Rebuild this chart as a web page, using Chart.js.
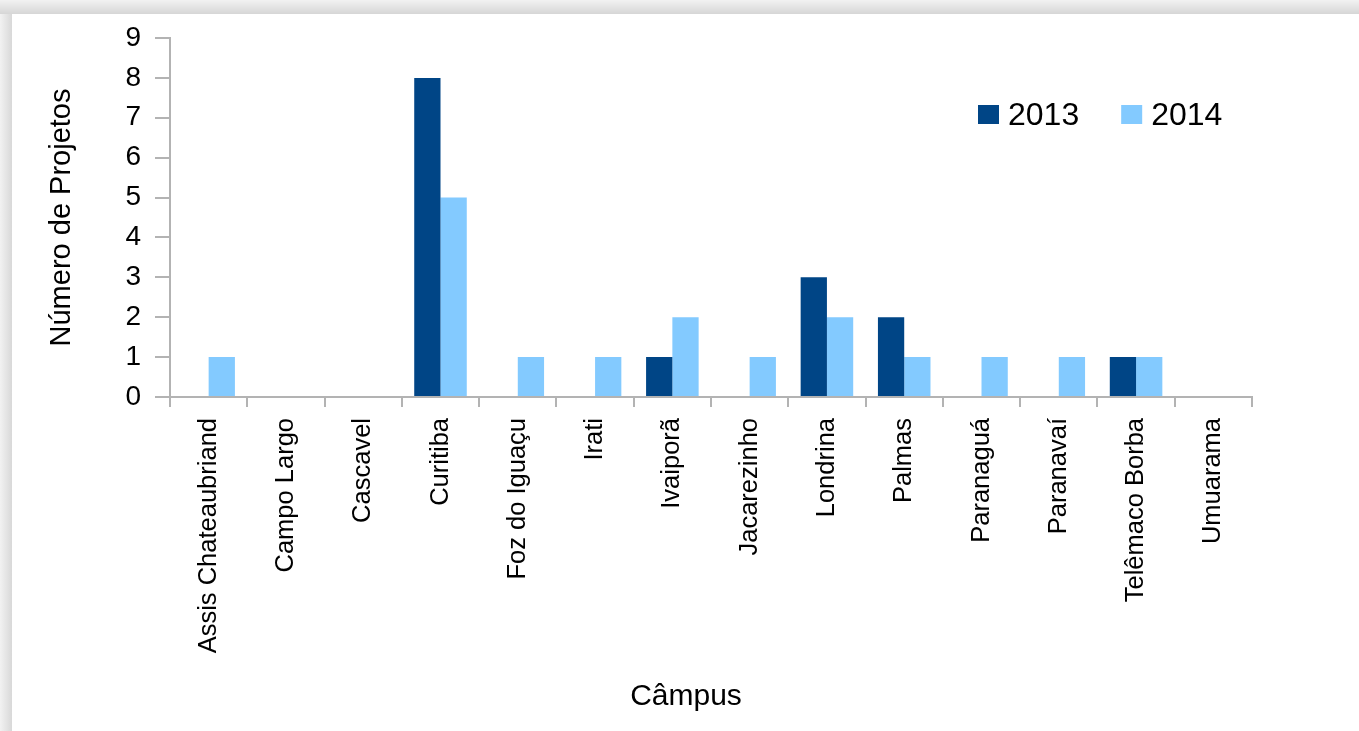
<!DOCTYPE html>
<html>
<head>
<meta charset="utf-8">
<script src="https://cdn.jsdelivr.net/npm/chart.js@4/dist/chart.umd.min.js"></script>
<style>
  html, body { margin: 0; padding: 0; background: #ffffff; }
  #chart { display: block; }
</style>
</head>
<body>
<canvas id="chart" width="1359" height="731"></canvas>
<script>
const campusLabels = [
  "Assis Chateaubriand", "Campo Largo", "Cascavel", "Curitiba",
  "Foz do Iguaçu", "Irati", "Ivaiporã", "Jacarezinho", "Londrina",
  "Palmas", "Paranaguá", "Paranavaí", "Telêmaco Borba", "Umuarama"
]
const projects2013 = [0, 0, 0, 8, 0, 0, 1, 0, 3, 2, 0, 0, 1, 0]
const projects2014 = [1, 0, 0, 5, 1, 1, 2, 1, 2, 1, 1, 1, 1, 0]
const yearLabels = ["2013", "2014"]

const FONT = "'Liberation Sans', Arial, sans-serif"
const axisGray = "#b3b3b3"

// grey frame edge at top and left, like the screenshot
const framePlugin = {
  id: "frame",
  beforeDraw(chart) {
    const ctx = chart.ctx
    ctx.save()
    ctx.fillStyle = "#ffffff"
    ctx.fillRect(0, 0, chart.width, chart.height)
    const top = ctx.createLinearGradient(0, 0, 0, 14)
    top.addColorStop(0, "#f2f2f2")
    top.addColorStop(1, "#d6d6d6")
    ctx.fillStyle = top
    ctx.fillRect(0, 0, chart.width, 14)
    const left = ctx.createLinearGradient(0, 0, 12, 0)
    left.addColorStop(0, "#f2f2f2")
    left.addColorStop(1, "#d8d8d8")
    ctx.fillStyle = left
    ctx.fillRect(0, 14, 12, chart.height - 14)
    ctx.restore()
  }
}

// legend drawn inside the plot, top right
const insideLegend = {
  id: "insideLegend",
  afterDraw(chart) {
    const ctx = chart.ctx
    ctx.save()
    ctx.font = `32px ${FONT}`
    ctx.textBaseline = "middle"
    let x = 978
    const y = 115
    chart.data.datasets.forEach(ds => {
      ctx.fillStyle = ds.backgroundColor
      ctx.fillRect(x, y - 10, 21, 19)
      x += 30
      ctx.fillStyle = "#000000"
      ctx.fillText(ds.label, x, y + 1)
      x += ctx.measureText(ds.label).width + 42
    })
    ctx.restore()
  }
}

new Chart(document.getElementById("chart"), {
  type: "bar",
  data: {
    labels: campusLabels,
    datasets: [
      {
        label: yearLabels[0],
        data: projects2013,
        backgroundColor: "#004586",
        categoryPercentage: 0.68,
        barPercentage: 1.0
      },
      {
        label: yearLabels[1],
        data: projects2014,
        backgroundColor: "#83caff",
        categoryPercentage: 0.68,
        barPercentage: 1.0
      }
    ]
  },
  options: {
    responsive: false,
    animation: false,
    layout: {
      padding: { left: 0, right: 107, top: 38, bottom: 0 }
    },
    plugins: {
      legend: { display: false },
      tooltip: { enabled: false }
    },
    scales: {
      x: {
        afterFit: scale => { scale.height = 334 },
        border: { color: axisGray, width: 2 },
        grid: {
          drawOnChartArea: false,
          tickLength: 10,
          color: axisGray,
          lineWidth: 2
        },
        ticks: {
          autoSkip: false,
          minRotation: 90,
          maxRotation: 90,
          padding: 11,
          color: "#000000",
          font: { family: FONT, size: 25.5 }
        },
        title: {
          display: true,
          text: "Câmpus      ",
          color: "#000000",
          font: { family: FONT, size: 30 },
          padding: { top: 0, bottom: 16 }
        }
      },
      y: {
        min: 0,
        max: 9,
        afterFit: scale => { scale.width = 170 },
        border: { color: axisGray, width: 2 },
        grid: {
          drawOnChartArea: false,
          tickLength: 15,
          color: axisGray,
          lineWidth: 2
        },
        ticks: {
          stepSize: 1,
          padding: 14,
          color: "#000000",
          font: { family: FONT, size: 28 }
        },
        title: {
          display: true,
          text: "Número de Projetos",
          color: "#000000",
          font: { family: FONT, size: 29 },
          padding: { top: 45, bottom: 0 }
        }
      }
    }
  },
  plugins: [framePlugin, insideLegend]
})
</script>
</body>
</html>
